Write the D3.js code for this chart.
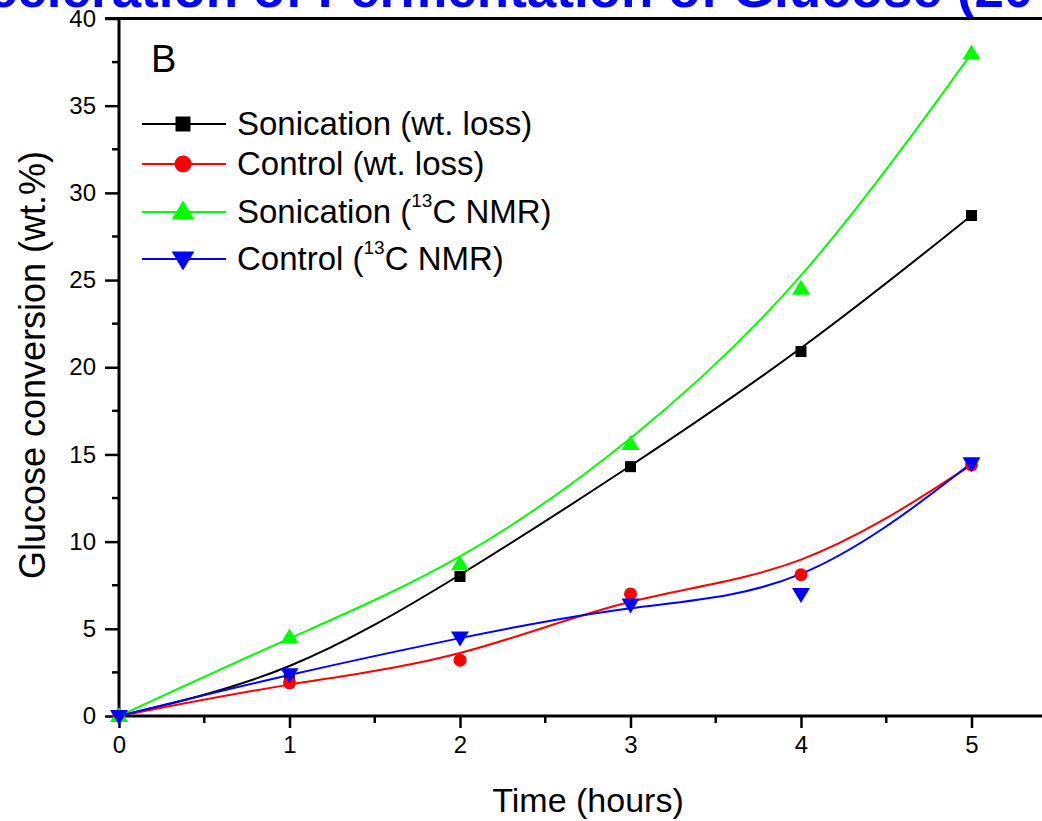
<!DOCTYPE html>
<html><head><meta charset="utf-8">
<script src="https://cdn.jsdelivr.net/npm/d3@7"></script>
<style>body{margin:0;background:#fff;} svg{display:block;font-family:"Liberation Sans",Arial,sans-serif;}</style>
</head><body>
<script>
const times = [0, 1, 2, 3, 4, 5];
const sonicationWt = [0, 2.3, 8.0, 14.3, 20.9, 28.7];
const controlWt = [0, 1.9, 3.2, 7.0, 8.1, 14.4];
const sonicationNmr = [0, 4.5, 8.7, 15.6, 24.5, 38.0];
const controlNmr = [0, 2.4, 4.5, 6.4, 7.0, 14.5];
const seriesNames = ["Sonication (wt. loss)", "Control (wt. loss)", "Sonication (", "Control ("];
const xTicks = [0, 1, 2, 3, 4, 5];
const yTicks = [0, 5, 10, 15, 20, 25, 30, 35, 40];
const titleText = "Acceleration of Fermentation of Glucose (20 kHz)";

const W = 1042, H = 821;
const svg = d3.select("body").append("svg").attr("width", W).attr("height", H);

const x = d3.scaleLinear().domain([0, 5]).range([119, 971.5]);
const y = d3.scaleLinear().domain([0, 40]).range([716, 18.5]);
const xMax = x.invert(W + 5);

// Title (cut off at top)
const title = svg.append("text").attr("font-weight", "bold").attr("font-size", 53)
  .attr("fill", "#0000ff").attr("y", 7).text(titleText);
const prefix = svg.append("text").attr("font-weight", "bold").attr("font-size", 53)
  .attr("visibility", "hidden").text("Acceleration of ");
const pw = prefix.node().getComputedTextLength();
prefix.remove();
title.attr("x", 303 - pw);

// Axes
const xAxis = d3.axisBottom(x).tickValues(xTicks).tickSize(12).tickPadding(8).tickFormat(d3.format("d"));
const gx = svg.append("g").attr("transform", "translate(0,716)").call(xAxis);
gx.select(".domain").remove();
gx.append("line").attr("x1", 119).attr("x2", W).attr("y1", 0).attr("y2", 0).attr("stroke", "#000").attr("stroke-width", 3);
gx.selectAll(".tick line").attr("stroke-width", 2.5);
gx.selectAll("text").attr("font-size", 24).attr("fill", "#000").attr("font-family", "Liberation Sans, Arial");
const xMinor = d3.range(0.5, xMax, 1);
gx.selectAll(".minor").data(xMinor).enter().append("line").attr("class", "minor")
  .attr("x1", d => x(d)).attr("x2", d => x(d)).attr("y1", 0).attr("y2", 7)
  .attr("stroke", "#000").attr("stroke-width", 2.5);

const yAxis = d3.axisLeft(y).tickValues(yTicks).tickSize(14).tickPadding(9).tickFormat(d3.format("d"));
const gy = svg.append("g").attr("transform", "translate(119,0)").call(yAxis);
gy.select(".domain").remove();
gy.append("line").attr("x1", 0).attr("x2", 0).attr("y1", 18).attr("y2", 717.5).attr("stroke", "#000").attr("stroke-width", 3);
gy.selectAll(".tick line").attr("stroke-width", 2.5);
gy.selectAll("text").attr("font-size", 24).attr("fill", "#000").attr("font-family", "Liberation Sans, Arial");
const yMinor = d3.range(2.5, 40, 5);
gy.selectAll(".minor").data(yMinor).enter().append("line").attr("class", "minor")
  .attr("y1", d => y(d)).attr("y2", d => y(d)).attr("x1", 0).attr("x2", -7)
  .attr("stroke", "#000").attr("stroke-width", 2.5);

// Top frame line
svg.append("line").attr("x1", 105).attr("x2", W).attr("y1", y(40)).attr("y2", y(40))
  .attr("stroke", "#000").attr("stroke-width", 3);

// Axis labels
svg.append("text").attr("x", 588).attr("y", 812).attr("text-anchor", "middle")
  .attr("font-size", 34).attr("fill", "#000").text("Time (hours)");
svg.append("text").attr("transform", "translate(45,365) rotate(-90)").attr("text-anchor", "middle")
  .attr("font-size", 36).attr("fill", "#000").text("Glucose conversion (wt.%)");

// Panel label
svg.append("text").attr("x", 151).attr("y", 72).attr("font-size", 38).attr("fill", "#000").text("B");

// Series
const series = [
  {vals: sonicationWt, color: "#000000", shape: "square"},
  {vals: controlWt, color: "#ff0000", shape: "circle"},
  {vals: sonicationNmr, color: "#00ff00", shape: "up"},
  {vals: controlNmr, color: "#0000ff", shape: "down"}
];

function marker(g, shape, cx, cy, s, color) {
  if (shape === "square") {
    g.append("rect").attr("x", cx - s/2).attr("y", cy - s/2).attr("width", s).attr("height", s).attr("fill", color);
  } else if (shape === "circle") {
    g.append("circle").attr("cx", cx).attr("cy", cy).attr("r", s/2).attr("fill", color);
  } else if (shape === "up") {
    const w = s * 1.2, h = s;
    g.append("path").attr("d", `M${cx},${cy - h*0.6}L${cx + w/2},${cy + h*0.4}L${cx - w/2},${cy + h*0.4}Z`).attr("fill", color);
  } else {
    const w = s * 1.2, h = s;
    g.append("path").attr("d", `M${cx},${cy + h*0.6}L${cx + w/2},${cy - h*0.4}L${cx - w/2},${cy - h*0.4}Z`).attr("fill", color);
  }
}

const line = d3.line().x(d => x(d[0])).y(d => y(d[1])).curve(d3.curveBasis);
const sizes = {square: 11, circle: 13, up: 15, down: 15};
series.forEach(s => {
  const pts = times.map((t, i) => [t, s.vals[i]]);
  svg.append("path").attr("d", line(pts)).attr("fill", "none").attr("stroke", s.color).attr("stroke-width", 2);
});
series.forEach(s => {
  const g = svg.append("g");
  times.forEach((t, i) => marker(g, s.shape, x(t), y(s.vals[i]), sizes[s.shape], s.color));
});

// Legend
const legendY = [124, 164, 212, 259];
const legSizes = {square: 15, circle: 17, up: 19, down: 19};
series.forEach((s, i) => {
  const g = svg.append("g");
  const ly = legendY[i];
  g.append("line").attr("x1", 142).attr("x2", 226).attr("y1", ly).attr("y2", ly).attr("stroke", s.color).attr("stroke-width", 2);
  marker(g, s.shape, 183, ly, legSizes[s.shape], s.color);
  const t = g.append("text").attr("x", 237).attr("y", ly + 11).attr("font-size", 33).attr("fill", "#000");
  if (i < 2) {
    t.text(seriesNames[i]);
  } else {
    t.append("tspan").text(seriesNames[i]);
    t.append("tspan").attr("font-size", 19).attr("dy", -16).text("13");
    t.append("tspan").attr("dy", 16).text("C NMR)");
  }
});
</script>
</body></html>
